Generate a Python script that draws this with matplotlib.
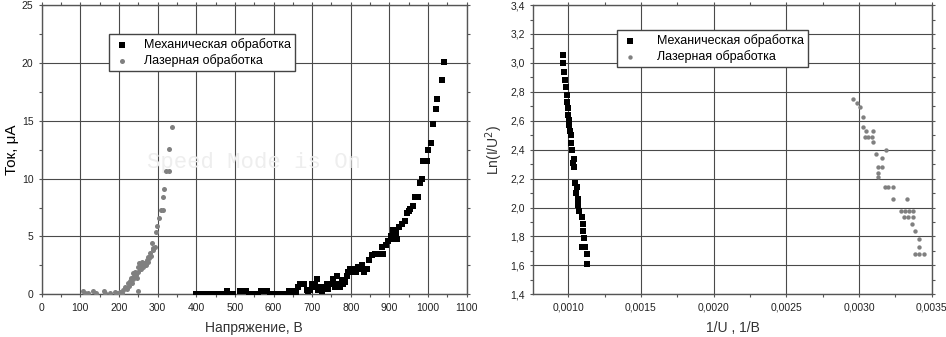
import matplotlib.pyplot as plt
from matplotlib.ticker import MultipleLocator, FuncFormatter

# --- левый график: ВАХ ---
mech_U = [400, 408, 416, 424, 432, 440, 448, 456, 464, 472, 480, 488, 496,
          512, 520, 528, 536, 544, 552, 560, 568, 576, 584, 592, 600, 608,
          616, 624, 632, 640, 648, 655, 659, 663, 669, 679, 686, 690, 695,
          699, 703, 708, 712, 716, 720, 725, 729, 733, 738, 742, 746, 751,
          755, 760, 765, 768, 772, 777, 781, 785, 789, 794, 798, 803, 809,
          814, 820, 824, 828, 833, 837, 841, 847, 854, 863, 871, 880, 884,
          891, 897, 904, 909, 910, 917, 919, 926, 932, 941, 946, 951, 954,
          962, 966, 975, 978, 984, 986, 997, 999, 1007, 1012, 1021, 1024,
          1037, 1042]
mech_I = [0.05, 0.05, 0.05, 0.05, 0.05, 0.05, 0.05, 0.05, 0.05, 0.05, 0.3, 0.05, 0.05,
          0.3, 0.3, 0.3, 0.05, 0.05, 0.05, 0.05, 0.3, 0.3, 0.3, 0.05, 0.05, 0.05,
          0.05, 0.05, 0.05, 0.3, 0.05, 0.3, 0.1, 0.6, 0.9, 0.9, 0.4, 0.3, 0.4,
          0.9, 0.6, 0.9, 1.3, 0.4, 0.6, 0.3, 0.6, 0.5, 0.9, 0.5, 0.9, 0.9,
          1.3, 0.6, 1.6, 0.9, 0.6, 1.2, 0.9, 1.1, 1.6, 1.9, 2.2, 1.9, 2.2,
          1.9, 2.4, 2.2, 2.5, 1.9, 2.2, 2.2, 3.0, 3.4, 3.5, 3.5, 4.1, 3.5,
          4.3, 4.6, 5.0, 5.6, 4.75, 5.3, 4.75, 5.85, 6.1, 6.3, 7.0, 7.2, 7.35,
          7.6, 8.4, 8.4, 9.65, 9.95, 11.55, 11.55, 12.5, 13.1, 14.7, 16.0, 16.9,
          18.5, 20.05]

laser_U = [107, 112, 120, 134, 140, 160, 165, 178, 190, 196, 203, 208, 211,
           216, 220, 224, 226, 229, 231, 233, 235, 237, 240, 242, 244, 246,
           248, 248, 250, 253, 254, 256, 258, 259, 261, 263, 265, 267, 270,
           272, 274, 276, 278, 280, 282, 285, 287, 289, 293, 296, 299, 304,
           310, 315, 315, 316, 323, 329, 330, 338]
laser_I = [0.3, 0.15, 0.1, 0.25, 0.1, 0.25, 0.1, 0.1, 0.2, 0.1, 0.2, 0.15, 0.35,
           0.66, 0.5, 0.95, 0.7, 1.15, 1.44, 1.0, 1.8, 1.3, 1.6, 1.96, 1.7, 1.38,
           0.29, 2.4, 1.9, 2.68, 2.2, 2.16, 2.5, 2.82, 2.6, 2.39, 2.7, 2.68, 2.5,
           2.97, 2.8, 3.25, 3.1, 3.54, 3.3, 4.4, 3.8, 3.97, 4.06, 5.41, 5.9, 6.57,
           7.29, 7.29, 8.44, 9.07, 10.7, 10.7, 12.53, 14.43]

# --- правый график: координаты Фаулера-Нордгейма ---
mech_x = [0.000961, 0.000966, 0.000972, 0.000979, 0.000984, 0.000989, 0.000993,
          0.000995, 0.001000, 0.001002, 0.001007, 0.001011, 0.001016, 0.001021,
          0.001023, 0.001030, 0.001041, 0.001041, 0.001046, 0.001057, 0.001053,
          0.001064, 0.001069, 0.001076, 0.001092, 0.001103, 0.001099, 0.001108,
          0.001092, 0.001115, 0.001126, 0.001126]
mech_y = [3.054, 2.997, 2.939, 2.882, 2.835, 2.778, 2.732, 2.686, 2.640, 2.605,
          2.571, 2.531, 2.501, 2.444, 2.398, 2.306, 2.333, 2.283, 2.172, 2.144,
          2.103, 2.057, 2.018, 1.978, 1.932, 1.886, 1.840, 1.787, 1.729, 1.729,
          1.676, 1.610]

laser_x = [0.002961, 0.002984, 0.003007, 0.003025, 0.003030, 0.003048, 0.003094,
           0.003041, 0.003064, 0.003087, 0.003099, 0.003117, 0.003183, 0.003161,
           0.003133, 0.003156, 0.003133, 0.003133, 0.003179, 0.003202, 0.003236,
           0.003232, 0.003333, 0.003287, 0.003317, 0.003344, 0.003369, 0.003307,
           0.003337, 0.003369, 0.003362, 0.003385, 0.003415, 0.003415, 0.003385,
           0.003415, 0.003447]
laser_y = [2.753, 2.720, 2.693, 2.624, 2.559, 2.531, 2.531, 2.485, 2.485, 2.485,
           2.455, 2.370, 2.398, 2.340, 2.278, 2.278, 2.241, 2.209, 2.140, 2.140,
           2.140, 2.061, 2.061, 1.978, 1.978, 1.978, 1.978, 1.932, 1.932, 1.932,
           1.886, 1.840, 1.785, 1.729, 1.679, 1.679, 1.679]

plt.rcParams['font.family'] = ['Liberation Sans', 'DejaVu Sans']

fig = plt.figure(figsize=(9.46, 3.37), dpi=100)
ax1 = fig.add_axes([0.0441, 0.1267, 0.4492, 0.8583])
ax2 = fig.add_axes([0.5638, 0.1267, 0.4211, 0.8583])

def style(ax):
    ax.grid(True, which='major', color='#4a4a4a', lw=0.8)
    ax.set_axisbelow(True)
    for s in ax.spines.values():
        s.set_color('#555555')
        s.set_linewidth(1.0)
    ax.tick_params(which='both', direction='out', length=2.5, width=0.8,
                   colors='#555555', labelcolor='#222222', labelsize=7.5,
                   top=True, right=True)
    ax.tick_params(which='minor', length=2)

# левый
ax1.scatter(mech_U, mech_I, marker='s', s=14, color='black', lw=0,
            label='Механическая обработка', zorder=3)
ax1.scatter(laser_U, laser_I, marker='o', s=13, color='#808080', lw=0,
            label='Лазерная обработка', zorder=3)
ax1.set_xlim(0, 1100)
ax1.set_ylim(0, 25)
ax1.xaxis.set_major_locator(MultipleLocator(100))
ax1.xaxis.set_minor_locator(MultipleLocator(50))
ax1.yaxis.set_major_locator(MultipleLocator(5))
ax1.yaxis.set_minor_locator(MultipleLocator(2.5))
style(ax1)
ax1.set_xlabel('Напряжение, В', fontsize=10, color='#333333', labelpad=6)
ax1.set_ylabel('Ток, μA', fontsize=11, labelpad=2)
ax1.legend(loc='upper left', bbox_to_anchor=(0.1435, 0.9205), fontsize=9,
           frameon=True, fancybox=False, edgecolor='#444444', borderpad=0.3,
           handletextpad=1.0, labelspacing=0.25, markerscale=1.0,
           handlelength=1.5, framealpha=1)
ax1.text(549, 11.35, 'Speed Mode is On', fontsize=16, color='#eeeeee',
         family='Liberation Mono', ha='center', va='center', zorder=1)

# правый
ax2.scatter(mech_x, mech_y, marker='s', s=22, color='black', lw=0,
            label='Механическая обработка', zorder=3)
ax2.scatter(laser_x, laser_y, marker='o', s=10, color='#808080', lw=0,
            label='Лазерная обработка', zorder=3)
ax2.set_xlim(0.00076, 0.0035)
ax2.set_ylim(1.4, 3.4)
ax2.xaxis.set_major_locator(MultipleLocator(0.0005))
ax2.xaxis.set_minor_locator(MultipleLocator(0.00025))
ax2.yaxis.set_major_locator(MultipleLocator(0.2))
ax2.yaxis.set_minor_locator(MultipleLocator(0.1))
ax2.xaxis.set_major_formatter(FuncFormatter(lambda v, p: ('%.4f' % v).replace('.', ',')))
ax2.yaxis.set_major_formatter(FuncFormatter(lambda v, p: ('%.1f' % v).replace('.', ',')))
style(ax2)
ax2.set_xlabel('1/U , 1/B', fontsize=10, color='#333333', labelpad=6)
ax2.set_ylabel('Ln(I/U$^2$)', fontsize=10, color='#333333', labelpad=4)
ax2.legend(loc='upper left', bbox_to_anchor=(0.195, 0.934), fontsize=9,
           frameon=True, fancybox=False, edgecolor='#444444', borderpad=0.3,
           handletextpad=1.4, labelspacing=0.25, handlelength=1.5, framealpha=1)

fig.savefig('out.png', dpi=100)
